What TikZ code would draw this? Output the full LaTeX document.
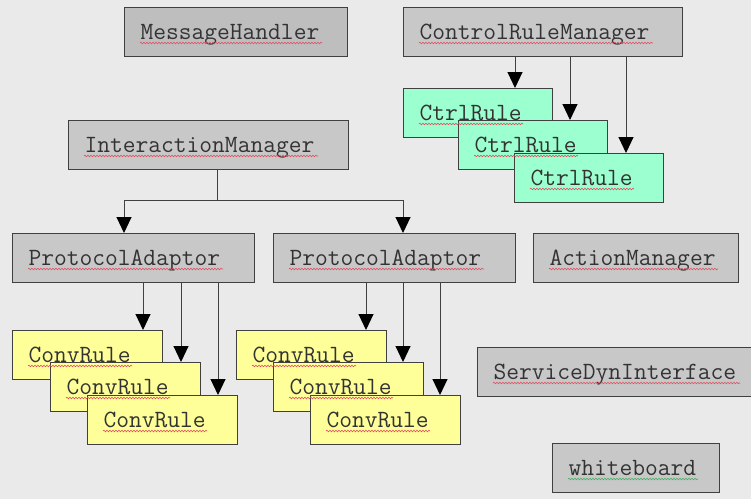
\documentclass[tikz,border=0pt]{standalone}
\usepackage{fontspec}
\usetikzlibrary{arrows.meta, positioning, calc, decorations.pathmorphing}
\definecolor{bgc}{HTML}{EAEAEA}
\definecolor{edge}{HTML}{404040}
\definecolor{grayfill}{HTML}{C8C8C8}
\definecolor{darkfill}{HTML}{BEBEBE}
\definecolor{mint}{HTML}{9CFFCF}
\definecolor{lemon}{HTML}{FFFF99}
\definecolor{squigred}{HTML}{E05060}
\definecolor{squiggreen}{HTML}{40B060}
\tikzset{
  box/.style={draw=edge, line width=1pt, fill=#1, anchor=north west, inner xsep=16pt, inner ysep=0pt,
    text height=32pt, text depth=17pt, align=left, text=black!80,
    font=\ttfamily\fontsize{24.8}{26}\selectfont},
  arr/.style={-{Triangle[length=16pt, width=15pt, color=black]}, draw=edge, line width=1pt},
  squig/.style={draw=#1, line width=0.6pt, decorate,
    decoration={snake, segment length=3pt, amplitude=0.8pt}},
}

\begin{document}
\begin{tikzpicture}[x=1pt, y=-1pt]
  \fill[bgc] (0,0) rectangle (751,499);
  \useasboundingbox (0,0) rectangle (751,499);
  % managers
  \node[box=darkfill, text width=191pt] (mh) at (124,7) {MessageHandler};
  \node[box=grayfill, text width=247pt] (crm) at (403,7) {ControlRuleManager};
  \node[box=grayfill, text width=248pt] (im) at (68,120) {InteractionManager};
  \node[box=grayfill, text width=210pt] (pa1) at (12,233) {ProtocolAdaptor};
  \node[box=grayfill, text width=210pt] (pa2) at (273,233) {ProtocolAdaptor};
  \node[box=grayfill, text width=173pt] (am) at (533,233) {ActionManager};
  \node[box=grayfill, text width=244pt] (sdi) at (477,347) {ServiceDynInterface};
  \node[box=grayfill, text width=135pt] (wb) at (552,443) {whiteboard};
  % rules
  \foreach \i/\x/\y in {1/403/88, 2/458/120, 3/514/153}
    \node[box=mint, text width=117pt] (cr\i) at (\x,\y) {CtrlRule};
  \foreach \i/\x/\y in {1/12/330, 2/50/362, 3/87/395}
    \node[box=lemon, text width=118pt] (cva\i) at (\x,\y) {ConvRule};
  \foreach \i/\x/\y in {1/236/330, 2/273/362, 3/310/395}
    \node[box=lemon, text width=118pt] (cvb\i) at (\x,\y) {ConvRule};
  % spell check marks
  \foreach \n/\c in {mh/14, crm/18, im/18, pa1/15, pa2/15, am/13, sdi/19,
      cr1/8, cr2/8, cr3/8, cva1/8, cva2/8, cva3/8, cvb1/8, cvb2/8, cvb3/8}
    \draw[squig=squigred] ([xshift=16pt, yshift=-36pt]\n.north west) -- ++(\c*13,0);
  \draw[squig=squiggreen] ([xshift=16pt, yshift=-36pt]wb.north west) -- ++(130,0);
  % connectors
  \foreach \i in {1,2,3} {
    \coordinate (e\i) at ([xshift=112pt]cr\i.north west);
    \draw[arr] (crm.south -| e\i) -- (e\i);
    \coordinate (fa\i) at ([xshift=131pt]cva\i.north west);
    \draw[arr] (pa1.south -| fa\i) -- (fa\i);
    \coordinate (fb\i) at ([xshift=130pt]cvb\i.north west);
    \draw[arr] (pa2.south -| fb\i) -- (fb\i);
  }
  \coordinate (j) at (217,200);
  \coordinate (p1) at ([xshift=112pt]pa1.north west);
  \coordinate (p2) at ([xshift=130pt]pa2.north west);
  \draw[draw=edge, line width=1pt] (im.south -| j) -- (j);
  \draw[arr] (j) -| (p1);
  \draw[arr] (j) -| (p2);
\end{tikzpicture}
\end{document}
